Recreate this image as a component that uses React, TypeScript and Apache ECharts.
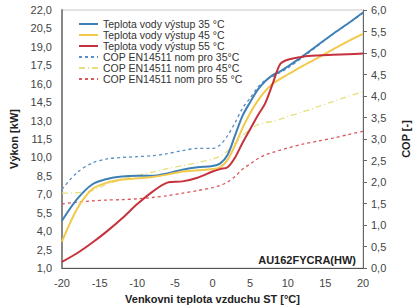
import React, { useEffect, useRef } from "react";
import * as echarts from "echarts";

const temps = [-20, -18, -16, -14, -12, -10, -8, -6, -4, -2, 0, 1, 2, 3, 4, 5, 6, 7, 8, 9, 10, 12, 14, 16, 18, 20];

const kw35 = [4.85, 6.6, 7.8, 8.25, 8.45, 8.5, 8.5, 8.7, 9.0, 9.2, 9.3, 9.5, 10.2, 11.8, 13.4, 14.5, 15.5, 16.2, 16.7, 17.0, 17.4, 18.25, 19.15, 20.05, 20.9, 21.8];
const kw45 = [3.15, 5.8, 7.4, 7.95, 8.2, 8.3, 8.4, 8.6, 8.85, 8.95, 9.05, 9.2, 9.8, 11.0, 12.4, 13.6, 14.6, 15.4, 16.0, 16.4, 16.75, 17.45, 18.1, 18.8, 19.45, 20.05];
const kw55 = [1.5, 2.2, 3.05, 4.0, 5.05, 6.2, 7.2, 7.95, 8.05, 8.35, 8.85, 9.05, 9.2, 10.0, 11.2, 12.3, 13.4, 14.4, 16.0, 17.6, 17.95, 18.2, 18.3, 18.35, 18.4, 18.45];
const cop35 = [1.83, 2.22, 2.44, 2.54, 2.57, 2.59, 2.61, 2.66, 2.73, 2.78, 2.78, 2.86, 3.08, 3.38, 3.72, 3.95, 4.2, 4.37, 4.45, 4.55, 4.65, 4.9, 5.17, 5.44, 5.68, 5.93];
const cop45 = [1.74, 1.75, 1.8, 1.95, 2.07, 2.15, 2.23, 2.31, 2.38, 2.45, 2.53, 2.6, 2.72, 2.9, 3.08, 3.22, 3.33, 3.38, 3.41, 3.46, 3.52, 3.63, 3.75, 3.87, 3.99, 4.1];
const cop55 = [1.49, 1.53, 1.56, 1.58, 1.59, 1.61, 1.64, 1.68, 1.74, 1.8, 1.87, 1.92, 2.0, 2.13, 2.3, 2.42, 2.54, 2.63, 2.69, 2.74, 2.79, 2.88, 2.95, 3.02, 3.1, 3.18];

const seriesNames = [
  "Teplota vody výstup 35 °C",
  "Teplota vody výstup 45 °C",
  "Teplota vody výstup 55 °C",
  "COP EN14511 nom pro 35°C",
  "COP EN14511 nom pro 45°C",
  "COP EN14511 nom pro 55 °C",
];

const FONT = "'Liberation Sans', Arial, sans-serif";

const pairs = (ys: number[]) => temps.map((t, i) => [t, ys[i]]);
const fmt = (v: number) => v.toFixed(1).replace(".", ",");

export default function App() {
  const ref = useRef<HTMLDivElement>(null);
  useEffect(() => {
    if (!ref.current) return;
    const chart = echarts.init(ref.current, undefined, { renderer: "svg" });
    const mk = (name: string, data: number[], color: string, axis: number, type: any, width: number) => ({
      name,
      type: "line",
      yAxisIndex: axis,
      data: pairs(data),
      smooth: 0.3,
      showSymbol: false,
      symbol: "none",
      lineStyle: { color, width, type },
      itemStyle: { color },
    });
    chart.setOption({
      animation: false,
      textStyle: { fontFamily: FONT },
      grid: {
        left: 62,
        right: 52,
        top: 10,
        bottom: 39,
        show: true,
        borderColor: "#c8c8c8",
        borderWidth: 1,
        outerBoundsMode: "none",
        containLabel: false,
      },
      legend: {
        orient: "vertical",
        left: 73,
        top: 13,
        itemWidth: 19,
        itemHeight: 8,
        itemGap: -1,
        itemStyle: { opacity: 0 },
        textStyle: { fontSize: 10.5, color: "#333", lineHeight: 12, fontFamily: FONT },
        data: seriesNames,
      },
      xAxis: {
        type: "value",
        min: -20,
        max: 20,
        interval: 5,
        splitLine: { show: false },
        axisLine: { onZero: false, lineStyle: { color: "#555", width: 1 } },
        axisTick: { show: false },
        axisLabel: { color: "#444", fontSize: 11, margin: 9 },
        name: "Venkovni teplota vzduchu ST [°C]",
        nameLocation: "middle",
        nameGap: 25,
        nameTextStyle: { fontWeight: "bold", fontSize: 11, color: "#222" },
      },
      yAxis: [
        {
          type: "value",
          min: 1,
          max: 22,
          interval: 1.5,
          splitLine: { show: false },
          axisLine: { show: true, onZero: false, lineStyle: { color: "#888", width: 2 } },
          axisTick: { show: false },
          axisLabel: { color: "#444", fontSize: 11, margin: 10, formatter: fmt },
          name: "Výkon [kW]",
          nameLocation: "middle",
          nameGap: 37,
          nameRotate: 90,
          nameTextStyle: { fontWeight: "bold", fontSize: 11, color: "#222" },
        },
        {
          type: "value",
          position: "right",
          min: 0,
          max: 6,
          interval: 0.5,
          splitLine: { show: false },
          axisLine: { show: true, onZero: false, lineStyle: { color: "#666", width: 1 } },
          axisTick: { show: true, length: 4, lineStyle: { color: "#666" } },
          axisLabel: { color: "#444", fontSize: 11, margin: 8, formatter: fmt },
          name: "COP [-]",
          nameLocation: "middle",
          nameGap: 37,
          nameRotate: 90,
          nameTextStyle: { fontWeight: "bold", fontSize: 11, color: "#222" },
        },
      ],
      graphic: [
        {
          type: "text",
          right: 59,
          top: 254,
          style: { text: "AU162FYCRA(HW)", font: `bold 11px ${FONT}`, fill: "#222" },
        },
      ],
      series: [
        mk(seriesNames[3], cop35, "#5b8fc2", 1, [3, 3], 1.3),
        mk(seriesNames[4], cop45, "#e4e07a", 1, [6, 3, 1, 3], 1.3),
        mk(seriesNames[5], cop55, "#d9575a", 1, [3, 3], 1.3),
        mk(seriesNames[0], kw35, "#3e80b6", 0, "solid", 2),
        mk(seriesNames[1], kw45, "#f2c94a", 0, "solid", 2),
        mk(seriesNames[2], kw55, "#c5323c", 0, "solid", 2),
      ],
    });
    return () => chart.dispose();
  }, []);
  return <div ref={ref} style={{ width: 415, height: 307, position: "absolute", left: 0, top: 0 }} />;
}
